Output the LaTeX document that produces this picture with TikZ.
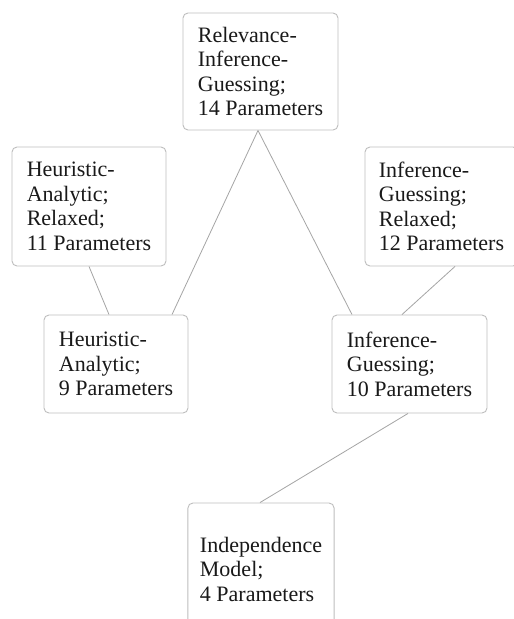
\documentclass[tikz,border=0pt]{standalone}
\usepackage{fontspec}
\setmainfont{Liberation Serif}
\usetikzlibrary{positioning}

\definecolor{boxGray}{RGB}{190,190,190}
\definecolor{edgeGray}{RGB}{165,165,165}
\definecolor{textGray}{RGB}{25,25,25}

\newcommand{\boxLineWidth}{0.9pt}
\newcommand{\edgeLineWidth}{0.8pt}
\newcommand{\topRowY}{71.5}
\newcommand{\relaxedRowY}{206.5}
\newcommand{\midRowY}{364}
\newcommand{\bottomRowY}{569}

\tikzset{
  modelbox/.style={draw=boxGray, line width=\boxLineWidth, rounded corners=5pt,
    align=left, text=textGray, inner xsep=12pt,
    font=\fontsize{22}{24.5}\selectfont},
  modeledge/.style={draw=edgeGray, line width=\edgeLineWidth}
}

\begin{document}
\begin{tikzpicture}[x=1pt, y=-1pt]
        \useasboundingbox (0,0) rectangle (514,619);
        \fill[white] (0,0) rectangle (514,619);
        \clip (0,0) rectangle (514,619);

        % Models
        \node[modelbox, minimum width=155pt, minimum height=117pt] (rig) at (260.5,\topRowY) {Relevance-\\Inference-\\Guessing;\\14 Parameters};
        \node[modelbox, minimum width=154pt, minimum height=119pt] (harel) at (89,\relaxedRowY) {Heuristic-\\Analytic;\\Relaxed;\\11 Parameters};
        \node[modelbox, minimum width=153pt, minimum height=119pt] (igrel) at (441.5,\relaxedRowY) {Inference-\\Guessing;\\Relaxed;\\12 Parameters};
        \node[modelbox, minimum width=144pt, minimum height=98pt] (ha) at (116,\midRowY) {Heuristic-\\Analytic;\\9 Parameters};
        \node[modelbox, minimum width=155pt, minimum height=98pt] (ig) at (409.5,\midRowY) {Inference-\\Guessing;\\10 Parameters};
        \node[modelbox, minimum width=144pt, minimum height=132pt] (indep) at (261,\bottomRowY) {Independence\\Model;\\4 Parameters};

        % Nesting lines
        \draw[modeledge] ([xshift=-2.5pt]rig.south) -- ([xshift=56pt]ha.north);
        \draw[modeledge] ([xshift=-2.5pt]rig.south) -- ([xshift=-57.5pt]ig.north);
        \draw[modeledge] (harel.south) -- ([xshift=-7pt]ha.north);
        \draw[modeledge] ([xshift=13.5pt]igrel.south) -- ([xshift=-7.5pt]ig.north);
        \draw[modeledge] ([xshift=-1.5pt]ig.south) -- ([xshift=-1pt]indep.north);
    \end{tikzpicture}
\end{document}
